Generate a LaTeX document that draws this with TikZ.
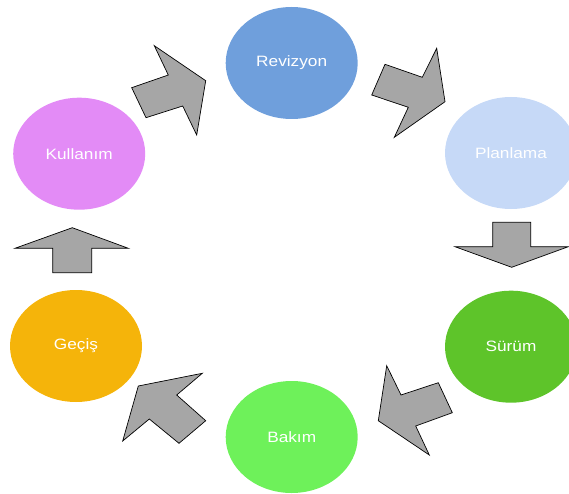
\documentclass[tikz,border=0pt]{standalone}
\usepackage{fontspec}
\setmainfont{Liberation Sans}
\usetikzlibrary{shapes.geometric}

\newcommand{\phaselabel}[1]{\scalebox{1.15}[1]{#1}}

\definecolor{revcol}{HTML}{6F9FDC}
\definecolor{plancol}{HTML}{C6D9F7}
\definecolor{surcol}{HTML}{5EC42A}
\definecolor{bakcol}{HTML}{6EF15A}
\definecolor{geccol}{HTML}{F5B40A}
\definecolor{kulcol}{HTML}{E38BF6}
\definecolor{arrowgray}{HTML}{A6A6A6}

\begin{document}
\begin{tikzpicture}[x=1pt, y=-1pt,
  phase/.style={ellipse, inner sep=0pt, minimum width=132pt, minimum height=112pt,
    text=white, font=\fontsize{15}{18}\selectfont},
  blockarrow/.style={fill=arrowgray, draw=black, line width=0.7pt, line join=miter}]
\useasboundingbox (0,0) rectangle (569,494);
\node[phase, fill=revcol] (rev) at (291.7,63) {\phaselabel{Revizyon}};
\node[phase, fill=plancol] (plan) at (511,153) {\phaselabel{Planlama}};
\node[phase, fill=surcol] (sur) at (511,346.7) {\phaselabel{Sürüm}};
\node[phase, fill=bakcol] (bak) at (291.7,437) {\phaselabel{Bakım}};
\node[phase, fill=geccol] (gec) at (76,346) {\phaselabel{Geçiş}};
\node[phase, fill=kulcol] (kul) at (79.2,153.7) {\phaselabel{Kullanım}};
\draw[blockarrow] (131.7,87.7) -- (168.3,75) -- (154.3,45.7) -- (205.7,80.7)
  -- (196.7,135) -- (182.7,106) -- (146,117.7) -- cycle;
\draw[blockarrow] (385,64.3) -- (422.3,77.3) -- (436.7,48.3) -- (445,101.7)
  -- (394.3,137.3) -- (408.3,107.3) -- (371.7,95) -- cycle;
\draw[blockarrow] (492.7,222.3) -- (530.7,222.3) -- (530.7,246.7) -- (568.3,246.7)
  -- (511.7,267.3) -- (455,246.7) -- (492.7,246.7) -- cycle;
\draw[blockarrow] (438.3,382.7) -- (401,395) -- (386.7,365.7) -- (378.3,420.7)
  -- (429.3,455) -- (415.7,426) -- (452.3,412.7) -- cycle;
\draw[blockarrow] (205.7,420.7) -- (176.7,395) -- (202.3,373.3) -- (138.3,386)
  -- (122.7,441) -- (149.3,419) -- (179,443.3) -- cycle;
\draw[blockarrow] (52.7,272.7) -- (52.7,248.3) -- (15,248.3) -- (72.3,227.7)
  -- (128.3,248.3) -- (91.7,248.3) -- (91.7,272.7) -- cycle;
\end{tikzpicture}
\end{document}
